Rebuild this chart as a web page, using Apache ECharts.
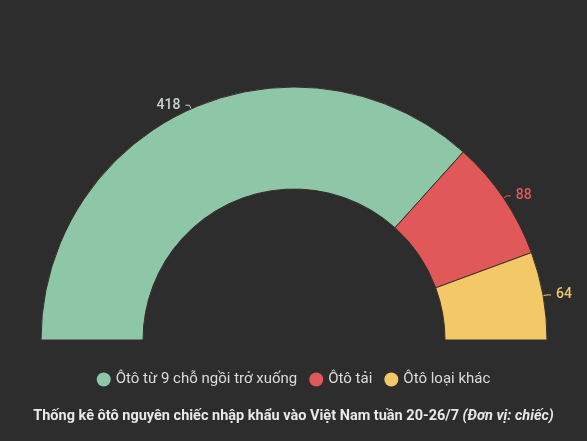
<!DOCTYPE html>
<html>
<head>
<meta charset="utf-8">
<script src="https://cdn.jsdelivr.net/npm/echarts@6/dist/echarts.min.js"></script>
<style>
  html, body { margin: 0; padding: 0; background: #2d2d2d; }
  #chart { width: 587px; height: 441px; }
</style>
</head>
<body>
<div id="chart"></div>
<script>
var categories = ['Ôtô từ 9 chỗ ngồi trở xuống', 'Ôtô tải', 'Ôtô loại khác'];
var values = [418, 88, 64];
var colors = ['#8ec7a7', '#e05858', '#f3c866'];
var labelColors = ['#c9d2cd', '#e05858', '#f3c866'];

var _chart = echarts.init(document.getElementById('chart'));
var option = {
    backgroundColor: '#2d2d2d',
    color: colors,
    title: {
        text: '{b|Thống kê ôtô nguyên chiếc nhập khẩu vào Việt Nam tuần 20-26/7 }{i|(Đơn vị: chiếc)}',
        left: 'center',
        top: 404,
        textStyle: {
            rich: {
                b: { fontFamily: 'Roboto', fontSize: 14.5, fontWeight: 'bold', color: '#e8e8e8' },
                i: { fontFamily: 'Roboto', fontSize: 14.5, fontStyle: 'italic', fontWeight: 'bold', color: '#e8e8e8' }
            }
        }
    },
    legend: {
        left: 'center',
        top: 367,
        icon: 'circle',
        itemWidth: 14,
        itemHeight: 14,
        itemGap: 12,
        itemStyle: { borderWidth: 0 },
        textStyle: { color: '#dcdcdc', fontSize: 15, fontFamily: 'Roboto' },
        data: categories
    },
    series: [
        {
            type: 'pie',
            center: [294, 340],
            radius: [151, 253],
            startAngle: 180,
            endAngle: 0,
            clockwise: true,
            avoidLabelOverlap: false,
            label: {
                show: true,
                position: 'outside',
                fontFamily: 'Roboto',
                fontSize: 14,
                fontWeight: 500,
                formatter: '{c}'
            },
            labelLine: {
                show: true,
                length: 4,
                length2: 4,
                lineStyle: { width: 1 }
            },
            itemStyle: {
                borderWidth: 1,
                borderColor: '#3a2e2a'
            },
            data: categories.map(function (name, i) {
                return {
                    name: name,
                    value: values[i],
                    label: { color: labelColors[i] },
                    labelLine: { lineStyle: { color: labelColors[i] } }
                };
            })
        }
    ]
};
_chart.setOption(option);
</script>
</body>
</html>
